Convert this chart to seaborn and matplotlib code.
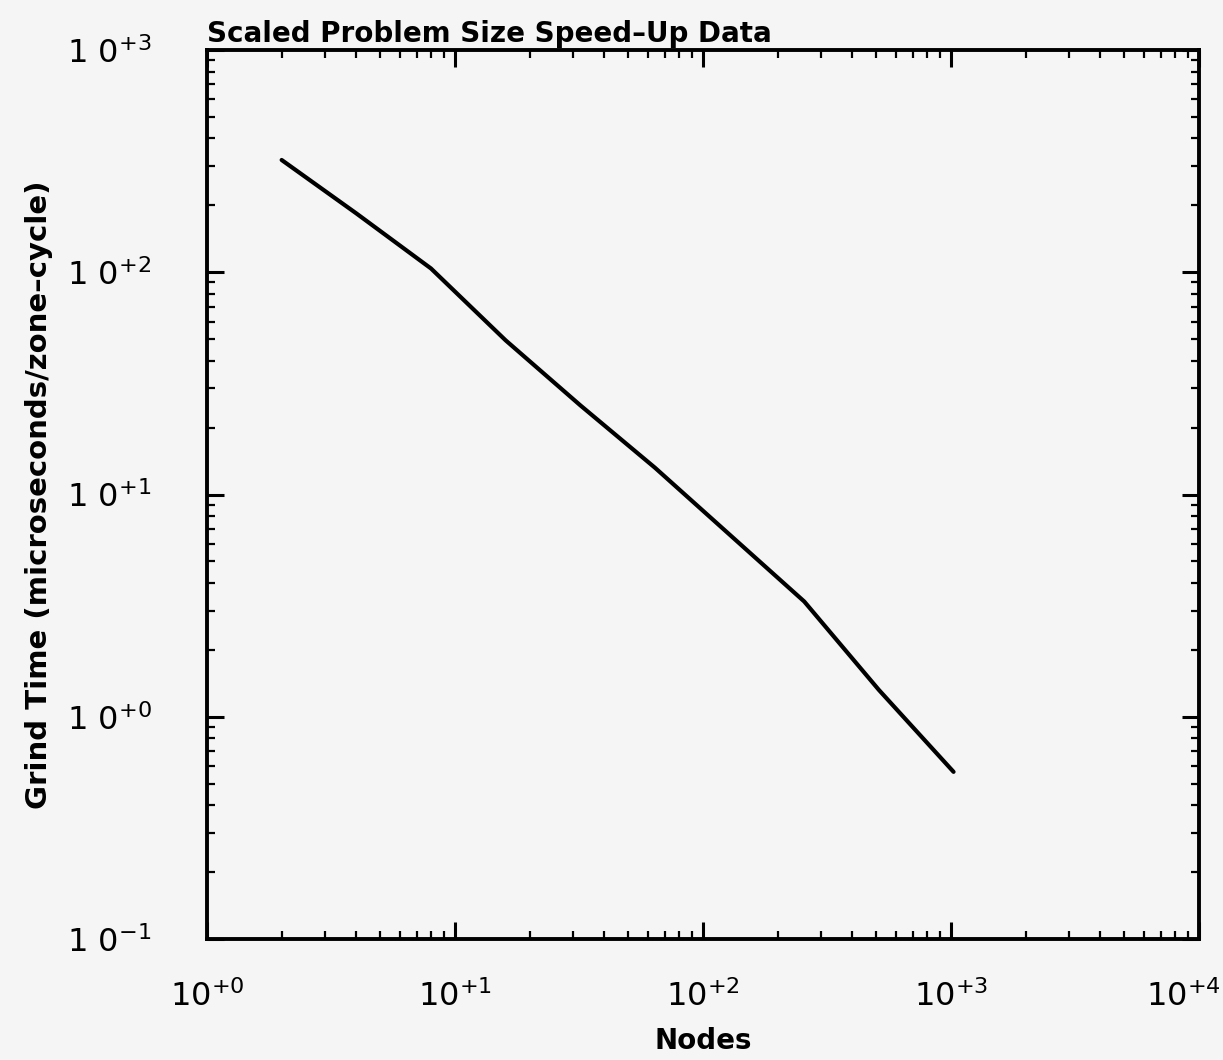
import numpy as np
import pandas as pd
import matplotlib
matplotlib.use("Agg")
import matplotlib.pyplot as plt
import matplotlib.ticker as mticker
import matplotlib.transforms as mtransforms
import seaborn as sns

# Data
nodes = [2, 4, 8, 16, 32, 64, 128, 256, 512, 1024]
grind_time = [320, 184, 104, 49.4, 25.2, 13.2, 6.6, 3.3, 1.32, 0.565]

x_decades = [1, 10, 100, 1000, 10000]
y_decades = [0.1, 1, 10, 100, 1000]

title = "Scaled Problem Size Speed\u2013Up Data"
xlabel = "Nodes"
ylabel = "Grind Time (microseconds/zone\u2013cycle)"

df = pd.DataFrame({"Nodes": nodes, "Grind": grind_time})

sns.set_theme(style="ticks")
plt.rcParams["font.family"] = ["DejaVu Sans"]
plt.rcParams["mathtext.fontset"] = "dejavusans"
plt.rcParams["text.color"] = "black"
plt.rcParams["axes.labelcolor"] = "black"
bg = "#f5f5f5"

fig = plt.figure(figsize=(12.23, 10.6), dpi=100, facecolor=bg)
ax = fig.add_axes([207 / 1223, 1 - 939 / 1060, (1199 - 207) / 1223, (939 - 50) / 1060])
ax.set_facecolor(bg)

sns.lineplot(data=df, x="Nodes", y="Grind", ax=ax, color="black", linewidth=3.0,
             estimator=None, sort=False)

ax.set_xscale("log")
ax.set_yscale("log")
ax.set_xlim(x_decades[0], x_decades[-1])
ax.set_ylim(y_decades[0], y_decades[-1])

def fmtx(v, pos):
    e = int(round(np.log10(v)))
    return r"$10^{%+d}$" % e

def fmty(v, pos):
    e = int(round(np.log10(v)))
    return r"$1\ 0^{%+d}$" % e

ax.xaxis.set_major_locator(mticker.FixedLocator(x_decades))
ax.yaxis.set_major_locator(mticker.FixedLocator(y_decades))
ax.xaxis.set_minor_locator(mticker.LogLocator(base=10, subs=np.arange(2, 10), numticks=20))
ax.yaxis.set_minor_locator(mticker.LogLocator(base=10, subs=np.arange(2, 10), numticks=20))
ax.xaxis.set_major_formatter(mticker.FuncFormatter(fmtx))
ax.yaxis.set_major_formatter(mticker.FuncFormatter(fmty))
ax.xaxis.set_minor_formatter(mticker.NullFormatter())
ax.yaxis.set_minor_formatter(mticker.NullFormatter())

ax.tick_params(which="both", direction="in", top=True, right=True, colors="black")
ax.tick_params(which="major", length=12, width=2.2, labelsize=23)
ax.tick_params(which="minor", length=6, width=1.6)
ax.tick_params(axis="x", which="major", pad=30)
ax.tick_params(axis="y", which="major", pad=40)

for s in ax.spines.values():
    s.set_linewidth(2.8)
    s.set_color("black")

ax.set_xlabel(xlabel, fontsize=20, fontweight="bold", labelpad=10)
ax.set_ylabel(ylabel, fontsize=21, fontweight="bold", labelpad=10)
ax.set_title(title, fontsize=20, fontweight="bold", loc="left", pad=6, color="black")

fig.canvas.draw()
last_tick = ax.xaxis.get_major_ticks()[len(x_decades) - 1]
last_tick.label1.set_horizontalalignment("right")
last_tick.label1.set_transform(last_tick.label1.get_transform()
                               + mtransforms.ScaledTranslation(22 / 100, 0, fig.dpi_scale_trans))

fig.savefig("out.png", dpi=100, facecolor=bg)
